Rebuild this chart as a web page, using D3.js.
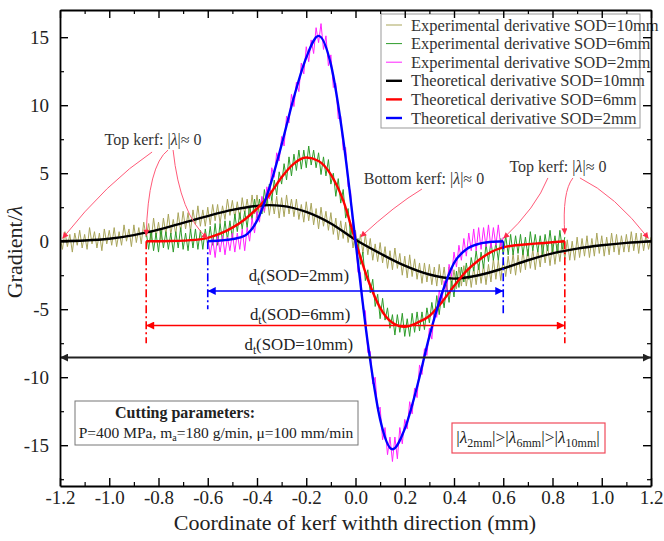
<!DOCTYPE html>
<html>
<head>
<meta charset="utf-8">
<script src="https://cdn.jsdelivr.net/npm/d3@7"></script>
<style>
  body { margin: 0; background: #fff; }
  text { font-family: "Liberation Serif", "Times New Roman", serif; }
</style>
</head>
<body>
<div id="chart"></div>
<script>
// experimental derivatives, one value every 0.01 mm from the start coordinate
const expStep = 0.01;
const exp10Start = -1.2;
const exp10 = [
  0.3,-0.6,0.7,-0.4,0.5,-0.8,0.6,-0.3,0.8,-0.5,
  0.5,-0.6,1.0,-0.2,0.7,-0.5,0.6,-0.7,0.9,-0.2,
  0.8,-0.3,1.0,-0.4,0.7,-0.3,1.2,0.0,0.9,-0.4,
  1.2,-0.1,1.0,-0.2,1.4,0.3,1.3,0.0,1.7,0.3,
  1.4,0.1,1.7,0.5,2.0,0.5,1.6,0.5,2.1,0.7,
  2.2,0.9,2.1,0.7,2.3,1.2,2.6,1.1,2.3,1.1,
  2.5,1.2,2.7,1.5,2.7,1.3,2.6,1.6,3.1,1.9,
  3.0,1.7,2.9,1.6,3.2,2.0,3.1,1.8,3.4,2.0,
  3.4,1.9,3.2,2.1,3.5,1.9,3.2,2.0,3.3,1.7,
  3.2,1.8,3.4,2.0,3.1,1.8,3.1,1.6,2.7,1.4,
  2.9,1.5,2.8,1.2,2.4,0.9,2.5,1.1,2.2,0.8,
  2.1,0.5,1.7,0.1,1.5,0.2,1.4,-0.1,1.0,-0.5,
  0.8,-0.8,0.5,-0.9,0.5,-1.0,0.2,-1.4,-0.2,-1.5,
  -0.1,-1.6,-0.4,-2.0,-0.7,-2.1,-0.5,-2.0,-0.9,-2.5,
  -1.1,-2.7,-1.0,-2.6,-1.3,-2.8,-1.6,-3.1,-1.6,-3.0,
  -1.7,-3.2,-1.9,-3.3,-1.7,-3.2,-1.9,-3.5,-1.9,-3.4,
  -2.1,-3.5,-1.9,-3.3,-1.8,-3.3,-2.0,-3.4,-1.9,-3.2,
  -1.7,-3.1,-1.7,-3.2,-1.7,-3.0,-1.3,-2.8,-1.4,-2.9,
  -1.3,-2.6,-1.1,-2.4,-0.9,-2.5,-1.0,-2.3,-0.7,-2.1,
  -0.6,-2.0,-0.6,-2.1,-0.6,-1.9,-0.2,-1.6,-0.3,-1.8,
  -0.2,-1.7,-0.2,-1.5,0.1,-1.3,0.1,-1.4,0.0,-1.4,
  0.3,-1.2,0.2,-1.1,0.4,-1.2,0.2,-1.1,0.6,-0.9,
  0.4,-1.1,0.3,-1.0,0.6,-0.8,0.5,-1.0,0.4,-0.8,
  0.5,-0.8,0.7,-0.7,0.6,-0.9,0.6,-0.7,0.5,-0.6,0.3
];
const exp6Start = -0.85;
const exp6 = [
  0.7,-0.6,0.8,-0.7,0.6,-0.8,0.9,-0.5,0.7,-0.6,
  0.6,-0.8,0.7,-0.5,1.0,-0.6,0.6,-0.7,0.9,-0.5,
  0.9,-0.6,0.8,-0.6,0.9,-0.3,1.1,-0.3,1.3,-0.3,
  1.3,0.0,1.5,0.1,1.5,0.2,2.0,0.7,2.1,0.9,
  2.2,1.0,2.6,1.6,3.1,1.7,3.1,2.0,3.8,2.6,
  4.2,3.0,4.5,3.4,5.1,4.2,5.7,4.5,6.2,4.8,
  6.4,5.2,6.7,5.3,6.7,5.4,7.0,5.6,6.7,5.4,
  6.5,4.9,6.2,4.8,6.0,4.2,5.0,3.3,4.6,2.8,
  3.8,1.7,2.4,0.4,1.3,-0.5,0.2,-1.7,-0.8,-2.9,
  -2.1,-3.8,-2.8,-4.8,-3.9,-5.7,-4.2,-5.8,-4.9,-6.4,
  -5.4,-6.9,-5.4,-6.7,-5.3,-7.0,-5.7,-7.0,-5.3,-6.7,
  -5.2,-6.6,-5.2,-6.5,-4.9,-6.0,-4.5,-5.7,-4.0,-5.4,
  -3.8,-4.9,-3.2,-4.5,-2.9,-4.1,-2.2,-3.4,-1.9,-3.0,
  -1.6,-2.8,-1.2,-2.2,-0.7,-2.1,-0.8,-2.0,-0.2,-1.5,
  0.0,-1.4,-0.1,-1.4,0.2,-1.0,0.4,-1.0,0.5,-1.0,
  0.4,-0.9,0.5,-1.0,0.3,-1.1,0.7,-0.7,0.5,-0.8,
  0.4,-1.0,0.5,-0.7,0.8,-0.8,0.4,-0.9,0.8,-0.6,0.3
];
const exp2Start = -0.6;
const exp2 = [
  0.3,-1.0,0.2,-1.2,0.4,-0.8,0.4,-1.0,0.3,-0.7,
  0.6,-0.8,0.6,-0.6,0.9,-0.7,1.0,0.0,1.7,0.6,
  2.2,1.4,3.3,2.2,4.0,3.1,5.4,4.7,6.5,5.9,
  7.7,7.0,9.2,8.7,10.8,9.9,11.7,11.0,13.1,12.3,
  14.3,13.2,14.8,13.8,15.7,14.6,16.0,14.1,15.1,12.9,
  13.7,11.3,11.6,9.0,9.2,6.7,6.9,4.0,3.7,0.9,
  0.6,-2.3,-2.3,-5.0,-5.1,-8.2,-8.1,-10.5,-10.0,-12.5,
  -12.2,-14.6,-13.7,-15.7,-14.4,-16.2,-14.4,-16.0,-13.7,-14.9,
  -13.1,-13.8,-11.8,-12.7,-10.8,-11.5,-9.1,-9.8,-7.9,-8.4,
  -6.4,-7.2,-5.1,-5.6,-3.6,-4.6,-2.9,-3.7,-1.7,-2.6,
  -0.8,-1.9,-0.3,-1.4,0.2,-1.1,0.6,-0.7,0.9,-0.7,
  1.0,-0.6,1.0,-0.4,1.2,-0.5,1.0,-0.3,1.2,-0.4,0.3
];

// theoretical derivatives
const theo10X = [-1.2,-1.1,-1.0,-0.9,-0.8,-0.7,-0.6,-0.5,-0.4,-0.35,-0.3,-0.2,-0.1,0,0.1,0.2,0.3,0.4,0.5,0.6,0.7,0.8,0.9,1.0,1.1,1.2];
const theo10Y = [0,0.05,0.18,0.45,0.85,1.35,1.85,2.3,2.6,2.65,2.6,2.15,1.3,0.1,-0.9,-1.8,-2.45,-2.75,-2.5,-2.0,-1.4,-0.9,-0.55,-0.3,-0.12,0];
const theo6X = [-0.85,-0.75,-0.65,-0.6,-0.55,-0.5,-0.45,-0.4,-0.35,-0.3,-0.25,-0.2,-0.15,-0.1,-0.05,0,0.05,0.1,0.15,0.2,0.25,0.3,0.35,0.4,0.45,0.5,0.55,0.6,0.65,0.7,0.75,0.8,0.85];
const theo6Y = [0,0.02,0.1,0.25,0.55,1.0,1.6,2.4,3.4,4.7,5.7,6.15,5.9,4.9,3.0,0,-2.8,-4.9,-6.0,-6.3,-6.0,-5.5,-4.5,-3.3,-2.2,-1.4,-0.8,-0.45,-0.3,-0.22,-0.15,-0.08,0];
const theo2X = [-0.6,-0.55,-0.5,-0.45,-0.4,-0.35,-0.3,-0.25,-0.2,-0.15,-0.1,-0.05,0,0.05,0.1,0.15,0.2,0.25,0.3,0.35,0.4,0.45,0.5,0.55,0.6];
const theo2Y = [0,0.05,0.15,0.4,1.5,3.9,7.1,10.6,13.5,15.1,13.0,7.5,0,-7.5,-13.1,-15.3,-13.8,-10.7,-7.0,-3.9,-1.6,-0.6,-0.2,-0.05,0];

// kerf widths d_t (mm)
const kerf2 = [-0.6, 0.6];
const kerf6 = [-0.85, 0.85];
const kerf10 = [-1.2, 1.2];

const legendLabels = [
  "Experimental derivative SOD=10mm",
  "Experimental derivative SOD=6mm",
  "Experimental derivative SOD=2mm",
  "Theoretical derivative SOD=10mm",
  "Theoretical derivative SOD=6mm",
  "Theoretical derivative SOD=2mm"
];

const xTicks = [-1.2,-1.0,-0.8,-0.6,-0.4,-0.2,0,0.2,0.4,0.6,0.8,1.0,1.2];
const xMinorTicks = [-1.1,-0.9,-0.7,-0.5,-0.3,-0.1,0.1,0.3,0.5,0.7,0.9,1.1];
const yTicks = [-15,-10,-5,0,5,10,15];
const yMinorTicks = [-17.5,-12.5,-7.5,-2.5,2.5,7.5,12.5];

const colOlive = "#a9a55b", colGreen = "#2e9c2a", colMagenta = "#ff22ff";
const colAnn = "#ff5a78";

const width = 664, height = 541;
const x = d3.scaleLinear().domain([-1.2, 1.2]).range([60, 651]);
const y = d3.scaleLinear().domain([-18, 17]).range([486, 10]);

const svg = d3.select("#chart")
  .append("svg")
  .attr("width", width)
  .attr("height", height);

const defs = svg.append("defs");
defs.append("clipPath").attr("id", "plot")
  .append("rect").attr("x", 60).attr("y", 10).attr("width", 591).attr("height", 476);

function marker(id, color, w, h) {
  defs.append("marker")
    .attr("id", id)
    .attr("viewBox", "0 0 10 10")
    .attr("refX", 10).attr("refY", 5)
    .attr("markerWidth", w).attr("markerHeight", h)
    .attr("markerUnits", "userSpaceOnUse")
    .attr("orient", "auto-start-reverse")
    .append("path").attr("d", "M0,0L10,5L0,10Z").attr("fill", color);
}
marker("ann", "#ff2a4a", 8, 6);
marker("arBlue", "#0000ff", 12, 8);
marker("arRed", "#ff0000", 12, 8);
marker("arBlack", "#222", 12, 8);

const plot = svg.append("g").attr("clip-path", "url(#plot)");

// experimental curves
const expLine = start => d3.line().x((d, i) => x(start + i * expStep)).y(d => y(d));
[[exp10, exp10Start, colOlive], [exp6, exp6Start, colGreen], [exp2, exp2Start, colMagenta]]
  .forEach(([vals, start, c]) => {
    plot.append("path")
      .datum(vals)
      .attr("d", expLine(start))
      .attr("fill", "none")
      .attr("stroke", c)
      .attr("stroke-width", 1);
  });

// theoretical curves
const theoLine = d3.line().x(d => x(d[0])).y(d => y(d[1])).curve(d3.curveMonotoneX);
[[theo10X, theo10Y, "#000"], [theo6X, theo6Y, "#ff0000"], [theo2X, theo2Y, "#0000ff"]]
  .forEach(([xs, ys, c]) => {
    plot.append("path")
      .datum(d3.zip(xs, ys))
      .attr("d", theoLine)
      .attr("fill", "none")
      .attr("stroke", c)
      .attr("stroke-width", 2.4);
  });

// dash-dot limits of the kerf
[[kerf6[0], -7.5, "#ff0000"], [kerf2[0], -5.0, "#0000ff"], [kerf2[1], -5.4, "#0000ff"], [kerf6[1], -7.5, "#ff0000"]]
  .forEach(([kx, bottom, c]) => {
    plot.append("line")
      .attr("x1", x(kx)).attr("x2", x(kx))
      .attr("y1", y(0)).attr("y2", y(bottom))
      .attr("stroke", c)
      .attr("stroke-width", 1.6)
      .attr("stroke-dasharray", "8,3,2,3");
  });

// d_t dimension arrows
[[kerf2, -3.66, "#0000ff", "arBlue", 1.6], [kerf6, -6.2, "#ff0000", "arRed", 1.6], [kerf10, -8.56, "#222", "arBlack", 2]]
  .forEach(([k, yy, c, m, sw]) => {
    svg.append("line")
      .attr("x1", x(k[0])).attr("x2", x(k[1]))
      .attr("y1", y(yy)).attr("y2", y(yy))
      .attr("stroke", c)
      .attr("stroke-width", sw)
      .attr("marker-start", `url(#${m})`)
      .attr("marker-end", `url(#${m})`);
  });

function dtLabel(sod, cx, cy) {
  const t = svg.append("text")
    .attr("x", x(cx)).attr("y", y(cy))
    .attr("text-anchor", "middle")
    .attr("font-size", 16.8)
    .attr("fill", "#222");
  t.append("tspan").text("d");
  t.append("tspan").attr("dy", 4).attr("font-size", 11.5).text("t");
  t.append("tspan").attr("dy", -4).text(`(SOD=${sod})`);
}
dtLabel("2mm", -0.23, -2.9);
dtLabel("6mm", -0.225, -5.8);
dtLabel("10mm", -0.23, -8.0);

// kerf annotations
function kerfNote(label, cx, cy, arrows) {
  const px = x(cx), py = y(cy);
  const t = svg.append("text")
    .attr("x", px).attr("y", py + 5)
    .attr("text-anchor", "middle")
    .attr("font-size", 16)
    .attr("fill", "#333");
  t.append("tspan").text(label + ": |");
  t.append("tspan").attr("font-style", "italic").text("λ");
  t.append("tspan").text("|≈ 0");
  arrows.forEach(a => {
    const sx = px + a.dx, sy = py + a.dy;
    const tx = x(a.to[0]), ty = y(a.to[1]);
    const p = d3.path();
    p.moveTo(sx, sy);
    p.quadraticCurveTo(sx + a.c[0], sy + a.c[1], tx, ty);
    svg.append("path")
      .attr("d", p.toString())
      .attr("fill", "none")
      .attr("stroke", colAnn)
      .attr("stroke-width", 1)
      .attr("marker-end", "url(#ann)");
  });
}
kerfNote("Top kerf", -0.822, 7.44, [
  { dx: -1, dy: 12, to: [-1.19, 0.2], c: [-45, 30] },
  { dx: 15, dy: 10, to: [kerf6[0], 0.4], c: [-20, 15] },
  { dx: 20, dy: 10, to: [kerf2[0], 0.2], c: [7, 65] }
]);
kerfNote("Top kerf", 0.822, 5.46, [
  { dx: -10, dy: 11, to: [kerf2[1], 0.2], c: [-12, 30] },
  { dx: 15, dy: 11, to: [kerf6[1], 0.5], c: [-11, 14] },
  { dx: 22, dy: 11, to: [1.19, 0.2], c: [35, 17] }
]);
kerfNote("Bottom kerf", 0.278, 4.57, [
  { dx: -2, dy: 10, to: [0.02, 0.3], c: [-27, 16] }
]);

// cutting parameters box
svg.append("rect")
  .attr("x", 75).attr("y", 401).attr("width", 283).attr("height", 44)
  .attr("fill", "#fff").attr("stroke", "#777").attr("stroke-width", 1);
svg.append("text")
  .attr("x", 185).attr("y", 418)
  .attr("text-anchor", "middle")
  .attr("font-size", 16).attr("font-weight", "bold")
  .attr("fill", "#222")
  .text("Cutting parameters:");
const cp = svg.append("text")
  .attr("x", 216).attr("y", 438)
  .attr("text-anchor", "middle")
  .attr("font-size", 15.5)
  .attr("fill", "#222");
cp.append("tspan").text("P=400 MPa, m");
cp.append("tspan").attr("dy", 3).attr("font-size", 10).text("a");
cp.append("tspan").attr("dy", -3).text("=180 g/min, μ=100 mm/min");

// |λ| ordering box
svg.append("rect")
  .attr("x", 452).attr("y", 423).attr("width", 153).attr("height", 30)
  .attr("fill", "#fff").attr("stroke", "#f04a5a").attr("stroke-width", 1.2);
const lam = svg.append("text")
  .attr("x", 528).attr("y", 443)
  .attr("text-anchor", "middle")
  .attr("font-size", 17.5)
  .attr("fill", "#222");
["2mm", "6mm", "10mm"].forEach((s, i) => {
  lam.append("tspan").attr("dy", i ? -4 : 0).text(i ? "|>|" : "|");
  lam.append("tspan").attr("font-style", "italic").text("λ");
  lam.append("tspan").attr("dy", 4).attr("font-size", 12).text(s);
});
lam.append("tspan").attr("dy", -4).text("|");

// legend
const legend = svg.append("g");
legend.append("rect")
  .attr("x", 381).attr("y", 14).attr("width", 259).attr("height", 114)
  .attr("fill", "#fff").attr("stroke", "#999").attr("stroke-width", 1);
const legendColors = [colOlive, colGreen, colMagenta, "#000", "#ff0000", "#0000ff"];
legendLabels.forEach((lab, i) => {
  const cy = 25 + i * 18.6;
  legend.append("line")
    .attr("x1", 386).attr("x2", 402)
    .attr("y1", cy).attr("y2", cy)
    .attr("stroke", legendColors[i])
    .attr("stroke-width", i < 3 ? 1 : 2.4);
  legend.append("text")
    .attr("x", 411).attr("y", cy + 5.5)
    .attr("font-size", 16.5)
    .attr("fill", "#333")
    .text(lab);
});

// axes, ticks pointing inwards on all four sides
const fmtX = d => (Math.abs(d) < 1e-9 ? 0 : d).toFixed(1);
const fmtY = d => String(d);

function styleAxis(g) {
  g.attr("font-family", "Liberation Serif, Times New Roman, serif").attr("font-size", 19);
  g.select(".domain").attr("stroke-width", 1.8);
  g.selectAll(".tick line").attr("stroke-width", 1.4);
  g.selectAll(".tick text").attr("fill", "#222");
}
function minor(g) {
  g.select(".domain").remove();
  g.selectAll(".tick line").attr("stroke-width", 1.2);
}

svg.append("g").attr("transform", "translate(0,486)")
  .call(d3.axisBottom(x).tickValues(xTicks).tickSizeInner(-8).tickSizeOuter(0).tickPadding(5).tickFormat(fmtX))
  .call(styleAxis);
svg.append("g").attr("transform", "translate(0,486)")
  .call(d3.axisBottom(x).tickValues(xMinorTicks).tickSizeInner(-4).tickSizeOuter(0).tickFormat(""))
  .call(minor);
svg.append("g").attr("transform", "translate(0,10)")
  .call(d3.axisTop(x).tickValues(xTicks).tickSizeInner(-8).tickSizeOuter(0).tickFormat(""))
  .call(styleAxis);
svg.append("g").attr("transform", "translate(0,10)")
  .call(d3.axisTop(x).tickValues(xMinorTicks).tickSizeInner(-4).tickSizeOuter(0).tickFormat(""))
  .call(minor);
svg.append("g").attr("transform", "translate(60,0)")
  .call(d3.axisLeft(y).tickValues(yTicks).tickSizeInner(-8).tickSizeOuter(0).tickPadding(11).tickFormat(fmtY))
  .call(styleAxis);
svg.append("g").attr("transform", "translate(60,0)")
  .call(d3.axisLeft(y).tickValues(yMinorTicks).tickSizeInner(-4).tickSizeOuter(0).tickFormat(""))
  .call(minor);
svg.append("g").attr("transform", "translate(651,0)")
  .call(d3.axisRight(y).tickValues(yTicks).tickSizeInner(-8).tickSizeOuter(0).tickFormat(""))
  .call(styleAxis);
svg.append("g").attr("transform", "translate(651,0)")
  .call(d3.axisRight(y).tickValues(yMinorTicks).tickSizeInner(-4).tickSizeOuter(0).tickFormat(""))
  .call(minor);

// axis titles
svg.append("text")
  .attr("x", 355).attr("y", 530)
  .attr("text-anchor", "middle")
  .attr("font-size", 22)
  .attr("fill", "#222")
  .text("Coordinate of kerf withth direction (mm)");
const yt = svg.append("text")
  .attr("transform", "translate(22,252) rotate(-90)")
  .attr("text-anchor", "middle")
  .attr("font-size", 22)
  .attr("fill", "#222");
yt.append("tspan").text("Gradient/");
yt.append("tspan").attr("font-style", "italic").text("λ");
</script>
</body>
</html>
